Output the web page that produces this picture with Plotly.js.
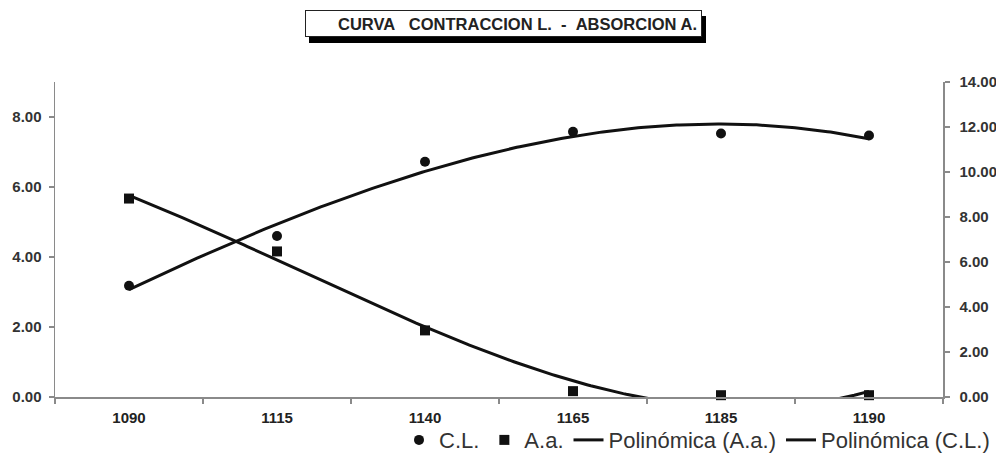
<!DOCTYPE html>
<html>
<head>
<meta charset="utf-8">
<script src="https://cdn.plot.ly/plotly-3.0.1.min.js"></script>
<style>html,body{margin:0;padding:0;background:#fff;}#chart{width:996px;height:457px;}</style>
</head>
<body>
<div id="chart"></div>
<script>
// Categories (firing temperatures)
const categories = ['1090', '1115', '1140', '1165', '1185', '1190'];
// C.L. (contracción lineal) - left axis
const clValues = [3.18, 4.60, 6.72, 7.58, 7.53, 7.47];
// A.a. (absorción de agua) - right axis
const aaValues = [8.82, 6.47, 2.96, 0.26, 0.08, 0.08];
// Axis tick values
const leftTicks = [0, 2, 4, 6, 8];
const rightTicks = [0, 2, 4, 6, 8, 10, 12, 14];

// Excel-style polynomial (order 3) trendline on category index 1..n
function polyFit(ys, order) {
  const n = order + 1;
  const A = [], b = [];
  for (let i = 0; i < n; i++) {
    A.push(new Array(n).fill(0));
    b.push(0);
  }
  ys.forEach((y, k) => {
    const x = k + 1;
    for (let i = 0; i < n; i++) {
      for (let j = 0; j < n; j++) A[i][j] += Math.pow(x, i + j);
      b[i] += y * Math.pow(x, i);
    }
  });
  for (let c = 0; c < n; c++) {
    let p = c;
    for (let r = c + 1; r < n; r++) if (Math.abs(A[r][c]) > Math.abs(A[p][c])) p = r;
    [A[c], A[p]] = [A[p], A[c]];
    [b[c], b[p]] = [b[p], b[c]];
    for (let r = c + 1; r < n; r++) {
      const f = A[r][c] / A[c][c];
      for (let j = c; j < n; j++) A[r][j] -= f * A[c][j];
      b[r] -= f * b[c];
    }
  }
  const coef = new Array(n).fill(0);
  for (let i = n - 1; i >= 0; i--) {
    let s = b[i];
    for (let j = i + 1; j < n; j++) s -= A[i][j] * coef[j];
    coef[i] = s / A[i][i];
  }
  return coef;
}
function trend(ys) {
  const c = polyFit(ys, 3);
  const xs = [], out = [];
  for (let x = 1; x <= ys.length + 1e-9; x += 0.02) {
    xs.push(x);
    out.push(c.reduce((s, ci, i) => s + ci * Math.pow(x, i), 0));
  }
  return {x: xs, y: out};
}
const tAA = trend(aaValues);
const tCL = trend(clValues);

const FONT = '"Liberation Sans", Arial, sans-serif';

const traces = [
  {x: categories, y: clValues, name: 'C.L.', type: 'scatter', mode: 'markers',
   xaxis: 'x', yaxis: 'y', cliponaxis: false,
   marker: {symbol: 'circle', size: 10, color: '#111'}},
  {x: categories, y: aaValues, name: 'A.a.', type: 'scatter', mode: 'markers',
   xaxis: 'x', yaxis: 'y2', cliponaxis: false,
   marker: {symbol: 'square', size: 10, color: '#111'}},
  {x: tAA.x, y: tAA.y, name: 'Polinómica (A.a.)', type: 'scatter', mode: 'lines',
   xaxis: 'x2', yaxis: 'y2', line: {color: '#111', width: 3}},
  {x: tCL.x, y: tCL.y, name: 'Polinómica (C.L.)', type: 'scatter', mode: 'lines',
   xaxis: 'x2', yaxis: 'y', line: {color: '#111', width: 3}}
];

const axisCommon = {
  showgrid: false, zeroline: false, showline: true, linecolor: '#8a8a8a', linewidth: 1.5,
  ticks: 'outside', ticklen: 5, tickcolor: '#8a8a8a', tickwidth: 1.2,
  automargin: false,
  tickfont: {family: FONT, size: 15, color: '#333', weight: 'bold'}
};

const layout = {
  width: 996, height: 457,
  margin: {l: 55, r: 53, t: 82, b: 60, pad: 0, autoexpand: false},
  paper_bgcolor: '#fff', plot_bgcolor: '#fff',
  font: {family: FONT},
  showlegend: true,
  legend: {orientation: 'h', xref: 'container', yref: 'container',
           xanchor: 'right', x: 0.999, yanchor: 'middle', y: 0.037,
           font: {family: FONT, size: 22, color: '#333'}, bgcolor: 'rgba(0,0,0,0)',
           traceorder: 'normal', itemwidth: 30},
  xaxis: Object.assign({}, axisCommon, {
    type: 'category', range: [-0.5, 5.5], tickson: 'boundaries', fixedrange: true,
    tickfont: {family: FONT, size: 15, color: '#222', weight: 'bold'}, ticklabelstandoff: 6
  }),
  xaxis2: {overlaying: 'x', range: [0.5, 6.5], visible: false, fixedrange: true},
  yaxis: Object.assign({}, axisCommon, {
    range: [0, 9], tickmode: 'array', tickvals: leftTicks, tickformat: '.2f',
    ticklabelstandoff: 4
  }),
  yaxis2: Object.assign({}, axisCommon, {
    overlaying: 'y', side: 'right', range: [0, 14], tickmode: 'array', tickvals: rightTicks,
    tickformat: '.2f', ticklabelstandoff: 7
  }),
  annotations: [
    {xref: 'paper', yref: 'paper', x: 0.505, y: 1.185, xanchor: 'center', yanchor: 'middle',
     xshift: 4, yshift: -6, text: '\u00a0', showarrow: false, width: 387, height: 17,
     bgcolor: '#000', bordercolor: '#000', borderwidth: 1, borderpad: 4,
     font: {family: FONT, size: 16, color: '#000'}},
    {xref: 'paper', yref: 'paper', x: 0.505, y: 1.185, xanchor: 'center', yanchor: 'middle',
     text: 'CURVA\u00a0\u00a0\u00a0CONTRACCION L.\u00a0\u00a0-\u00a0\u00a0ABSORCION A.',
     showarrow: false, width: 387, height: 17, align: 'right',
     bgcolor: '#fff', bordercolor: '#222', borderwidth: 1, borderpad: 4,
     font: {family: FONT, size: 16.5, color: '#222', weight: 'bold'}}
  ]
};

Plotly.newPlot('chart', traces, layout, {staticPlot: true, displayModeBar: false});
</script>
</body>
</html>
